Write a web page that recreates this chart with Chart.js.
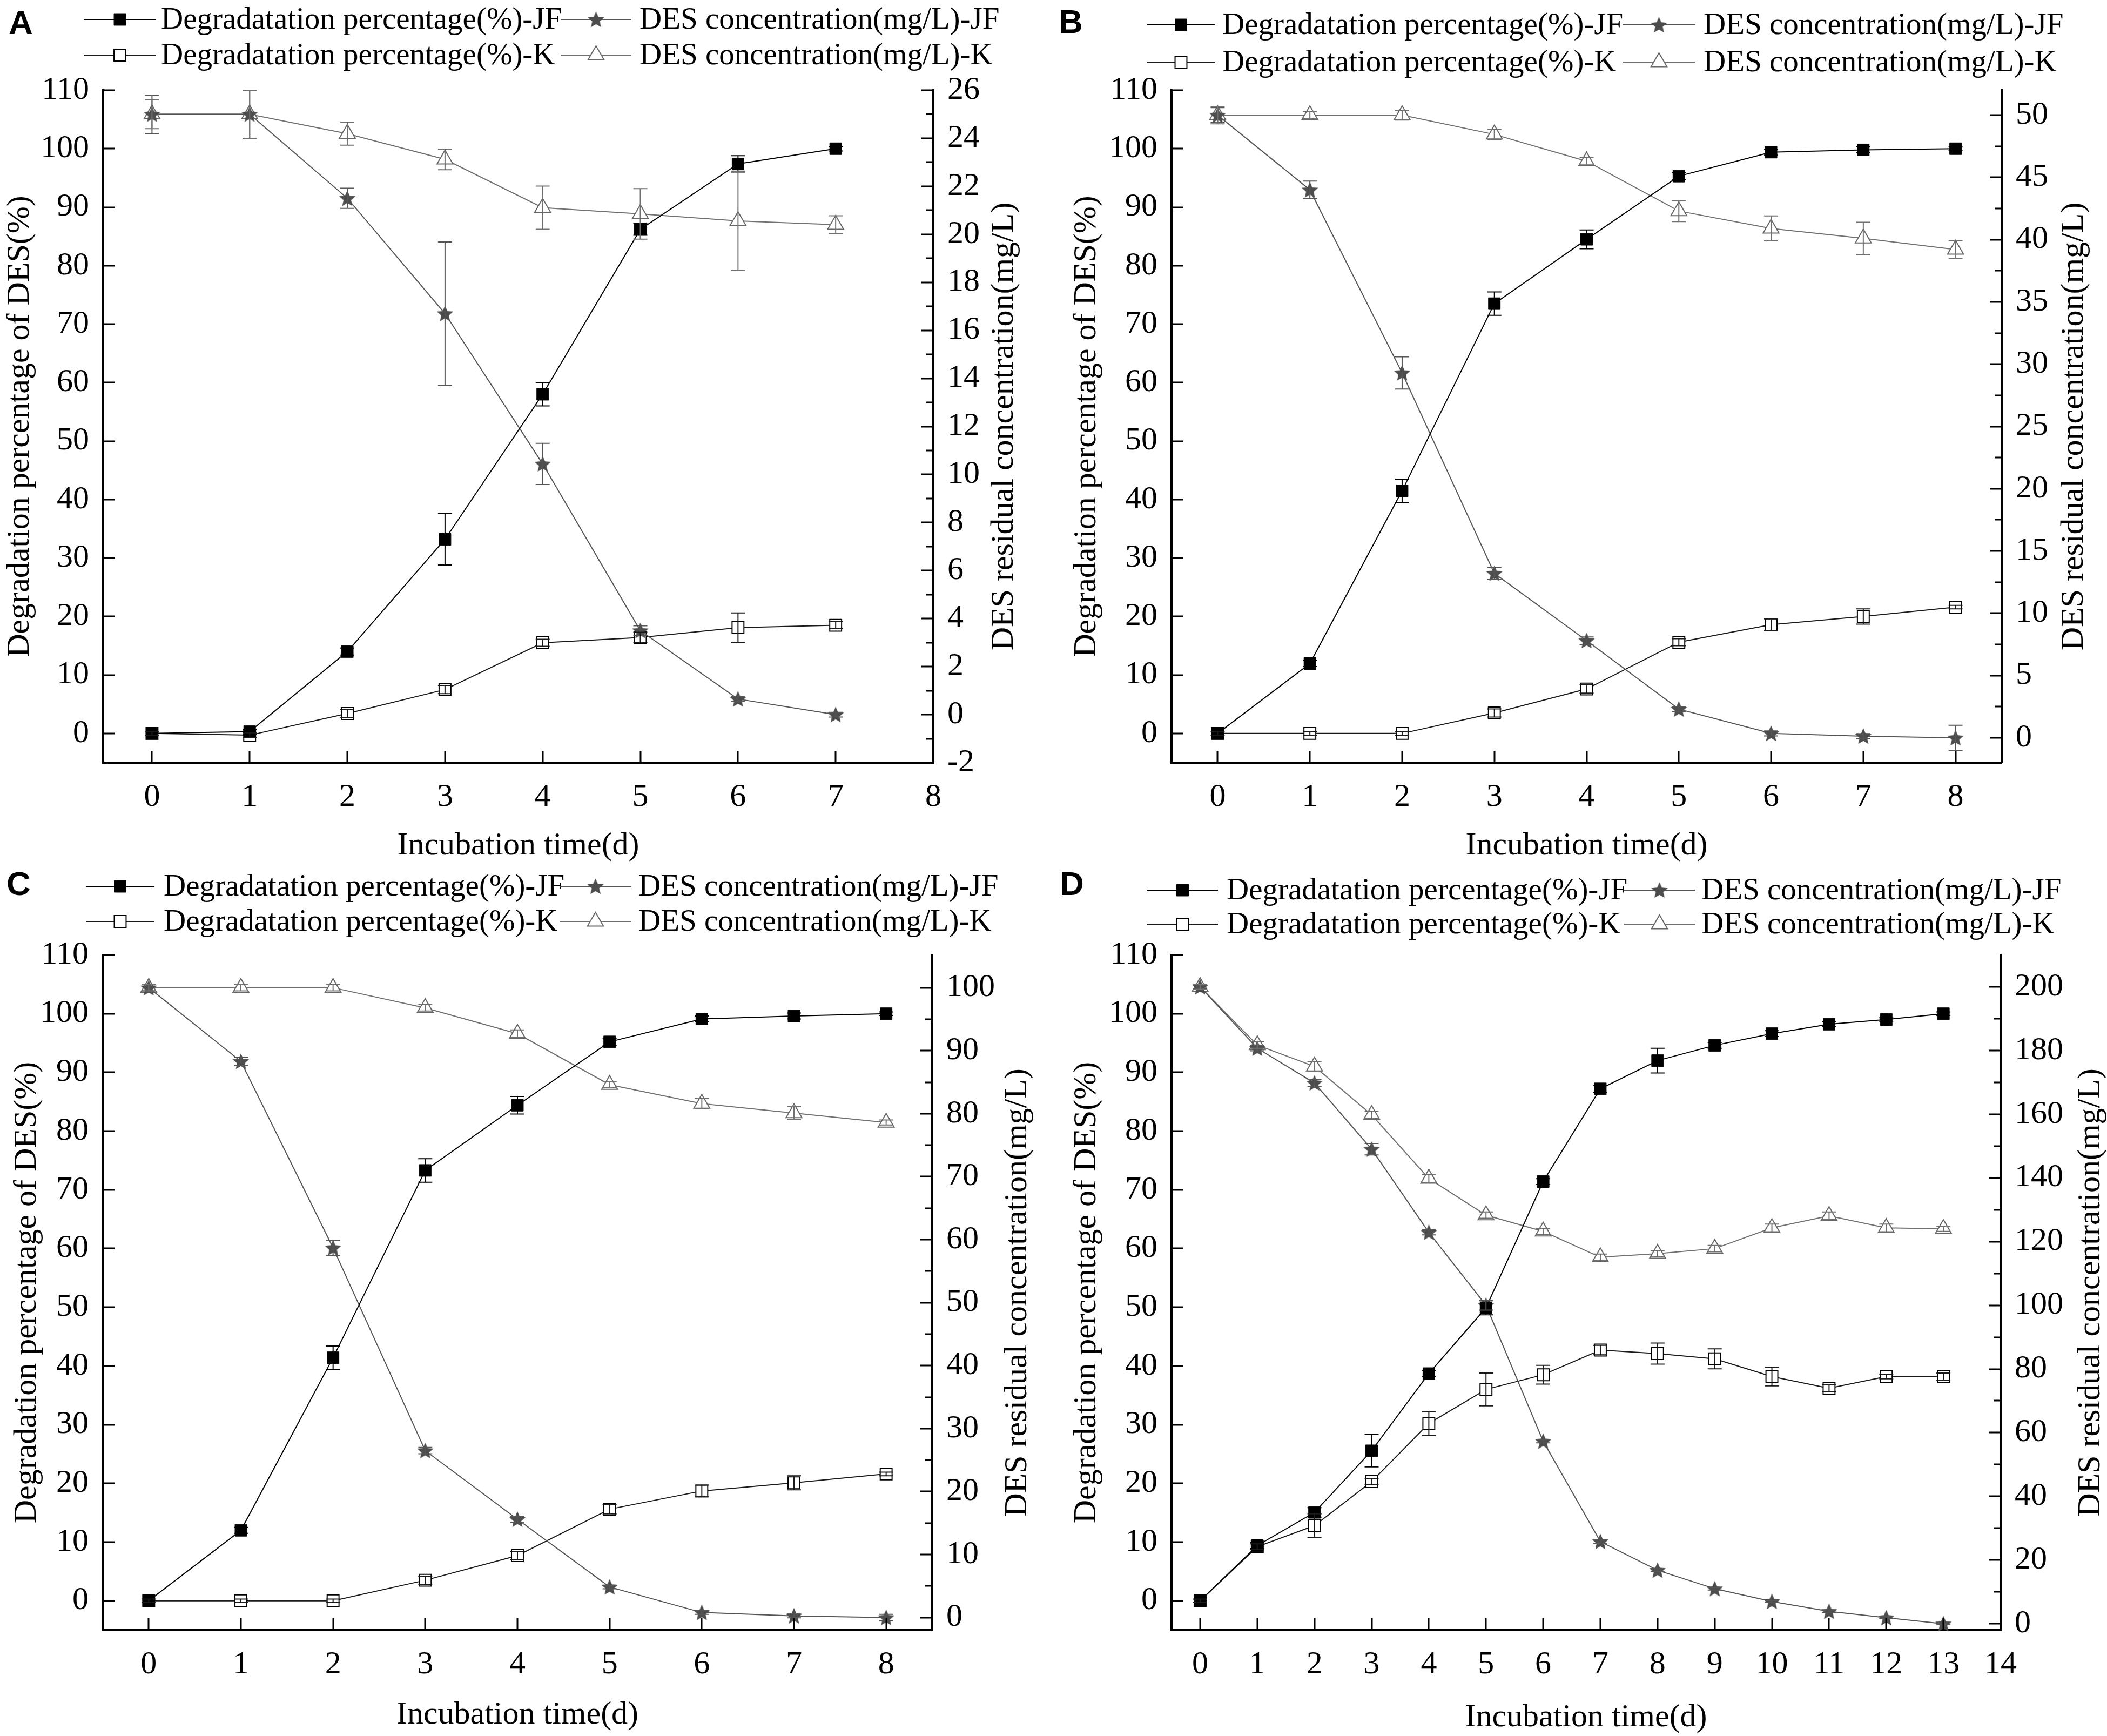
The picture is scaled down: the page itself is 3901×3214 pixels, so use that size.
<!DOCTYPE html>
<html>
<head>
<meta charset="utf-8">
<script src="https://cdn.jsdelivr.net/npm/chart.js@4.4.0/dist/chart.umd.min.js"></script>
<style>
html, body { margin: 0; padding: 0; background: #fff; }
body { width: 3901px; height: 3214px; position: relative; overflow: hidden; }
canvas { position: absolute; }
</style>
</head>
<body>
<canvas id="panelA" width="1950" height="1600" style="left:0;top:0;width:1950px;height:1600px"></canvas>
<canvas id="panelB" width="1951" height="1600" style="left:1950px;top:0;width:1951px;height:1600px"></canvas>
<canvas id="panelC" width="1950" height="1614" style="left:0;top:1600px;width:1950px;height:1614px"></canvas>
<canvas id="panelD" width="1951" height="1614" style="left:1950px;top:1600px;width:1951px;height:1614px"></canvas>
<script>
// ======================================================
// DATA
// ======================================================

const seriesNames = [
    "Degradatation percentage(%)-JF",
    "DES concentration(mg/L)-JF",
    "Degradatation percentage(%)-K",
    "DES concentration(mg/L)-K"
];
const xTitle = "Incubation time(d)";
const leftTitle = "Degradation percentage of DES(%)";
const rightTitle = "DES residual concentration(mg/L)";

const degTicks = [0, 10, 20, 30, 40, 50, 60, 70, 80, 90, 100, 110];

// --- panel A ---
const daysA = [0, 1, 2, 3, 4, 5, 6, 7];
const degJF_A = [0, 0.3, 14.0, 33.2, 58.0, 86.2, 97.4, 100];
const degJF_A_err = [0, 0.4, 0.6, 4.4, 2.0, 1.0, 1.4, 0.4];
const concJF_A = [25.0, 25.0, 21.5, 16.7, 10.44, 3.5, 0.65, 0];
const concJF_A_err = [0.8, 1.0, 0.42, 2.98, 0.86, 0.2, 0.1, 0.1];
const degK_A = [0, -0.3, 3.4, 7.5, 15.5, 16.4, 18.1, 18.5];
const degK_A_err = [0.3, 0.4, 0.7, 0.7, 0.6, 0.9, 2.5, 0.6];
const concK_A = [25.0, 25.0, 24.19, 23.12, 21.11, 20.85, 20.56, 20.4];
const concK_A_err = [0.6, 1.0, 0.48, 0.43, 0.9, 1.05, 2.07, 0.37];
const xTicksA = [0, 1, 2, 3, 4, 5, 6, 7, 8];
const concTicksA = [-2, 0, 2, 4, 6, 8, 10, 12, 14, 16, 18, 20, 22, 24, 26];
const concMinorA = [-1, 1, 3, 5, 7, 9, 11, 13, 15, 17, 19, 21, 23, 25];

// --- panel B ---
const daysB = [0, 1, 2, 3, 4, 5, 6, 7, 8];
const degJF_B = [0, 11.95, 41.5, 73.5, 84.5, 95.3, 99.4, 99.8, 100];
const degJF_B_err = [0, 0.5, 2.0, 2.0, 1.6, 0.6, 0.5, 0.5, 0.3];
const concJF_B = [50.0, 44.0, 29.3, 13.2, 7.8, 2.3, 0.35, 0.13, 0];
const concJF_B_err = [0.6, 0.7, 1.3, 0.5, 0.3, 0.2, 0.2, 0.2, 1.0];
const degK_B = [0, 0, 0, 3.5, 7.6, 15.6, 18.6, 20.0, 21.6];
const degK_B_err = [0.3, 0.3, 0.3, 0.7, 0.7, 0.6, 1.0, 1.3, 0.3];
const concK_B = [50.0, 50.0, 50.0, 48.45, 46.3, 42.3, 40.9, 40.1, 39.2];
const concK_B_err = [0.7, 0.3, 0.4, 0.4, 0.3, 0.85, 1.0, 1.3, 0.7];
const xTicksB = [0, 1, 2, 3, 4, 5, 6, 7, 8];
const concTicksB = [0, 5, 10, 15, 20, 25, 30, 35, 40, 45, 50];
const concMinorB = [2.5, 7.5, 12.5, 17.5, 22.5, 27.5, 32.5, 37.5, 42.5, 47.5];

// --- panel C ---
const daysC = [0, 1, 2, 3, 4, 5, 6, 7, 8];
const degJF_C = [0, 12.0, 41.4, 73.3, 84.4, 95.2, 99.1, 99.6, 100];
const degJF_C_err = [0, 0.5, 2.0, 2.0, 1.5, 0.6, 0.5, 0.5, 0.3];
const concJF_C = [100, 88.3, 58.7, 26.5, 15.6, 4.85, 0.8, 0.26, 0];
const concJF_C_err = [0.5, 0.6, 1.2, 0.5, 0.5, 0.3, 0.3, 0.3, 0.5];
const degK_C = [0, 0, 0, 3.5, 7.7, 15.6, 18.7, 20.1, 21.6];
const degK_C_err = [0.3, 0.3, 0.3, 0.7, 0.7, 0.8, 1.0, 1.2, 0.3];
const concK_C = [100, 100, 100, 96.8, 92.7, 84.6, 81.6, 80.1, 78.6];
const concK_C_err = [0.5, 0.5, 0.5, 0.5, 0.6, 0.5, 0.8, 1.0, 0.4];
const xTicksC = [0, 1, 2, 3, 4, 5, 6, 7, 8];
const concTicksC = [0, 10, 20, 30, 40, 50, 60, 70, 80, 90, 100];
const concMinorC = [5, 15, 25, 35, 45, 55, 65, 75, 85, 95];

// --- panel D ---
const daysD = [0, 1, 2, 3, 4, 5, 6, 7, 8, 9, 10, 11, 12, 13];
const degJF_D = [0, 9.4, 15.05, 25.55, 38.7, 49.9, 71.4, 87.2, 92.0, 94.6, 96.6, 98.2, 99.0, 100];
const degJF_D_err = [0, 0.5, 0.8, 2.75, 0.5, 1.2, 0.5, 0.6, 2.1, 0.5, 0.5, 0.4, 0.3, 0.3];
const concJF_D = [200, 180.7, 169.8, 149.0, 122.9, 100.0, 57.3, 25.8, 16.8, 11.0, 7.0, 3.9, 1.9, 0];
const concJF_D_err = [0.5, 0.8, 1.2, 1.8, 0.8, 1.5, 0.5, 0.5, 0.5, 0.4, 0.3, 0.3, 0.3, 0.3];
const degK_D = [0, 9.2, 12.8, 20.3, 30.2, 36.0, 38.5, 42.7, 42.1, 41.2, 38.2, 36.2, 38.2, 38.2];
const degK_D_err = [0.3, 0.5, 2.0, 0.5, 2.0, 2.8, 1.6, 0.8, 1.8, 1.7, 1.6, 0.6, 0.4, 0.6];
const concK_D = [200, 181.7, 175.0, 159.8, 139.8, 128.3, 123.2, 115.1, 116.2, 117.8, 124.3, 128.1, 124.3, 124.0];
const concK_D_err = [0.8, 1.0, 1.5, 1.2, 1.2, 1.0, 1.0, 1.0, 1.0, 1.0, 1.2, 1.2, 1.2, 0.8];
const xTicksD = [0, 1, 2, 3, 4, 5, 6, 7, 8, 9, 10, 11, 12, 13, 14];
const concTicksD = [0, 20, 40, 60, 80, 100, 120, 140, 160, 180, 200];
const concMinorD = [10, 30, 50, 70, 90, 110, 130, 150, 170, 190];

// ======================================================
// STYLE / LAYOUT
// ======================================================

const SERIF = '"Liberation Serif", "Times New Roman", serif';
const SANS = '"Liberation Sans", Arial, sans-serif';
const TICK_FONT = 60;
const TITLE_FONT = 60;
const LEGEND_FONT = 57;

// chart area + text anchors, per panel, in canvas pixels
const layoutA = { L: 191, R: 1728, T: 167, B: 1412, leftTitleX: 37, rightTitleX: 1859, xTitleY: 1566,
    letter: "A", letterX: 16, letterY: 63,
    lg: { a1: 155, b1: 289, t1: 298, a2: 1038, b2: 1169, t2: 1184, r1: 36, r2: 102 } };
const layoutB = { L: 219, R: 1756, T: 167, B: 1412, leftTitleX: 62, rightTitleX: 1890, xTitleY: 1566,
    letter: "B", letterX: 10, letterY: 61,
    lg: { a1: 174, b1: 299, t1: 313, a2: 1055, b2: 1188, t2: 1204, r1: 46, r2: 115 } };
const layoutC = { L: 190, R: 1726, T: 168, B: 1418, leftTitleX: 50, rightTitleX: 1884, xTitleY: 1575,
    letter: "C", letterX: 12, letterY: 57,
    lg: { a1: 159, b1: 286, t1: 303, a2: 1036, b2: 1169, t2: 1182, r1: 41, r2: 106 } };
const layoutD = { L: 219, R: 1754, T: 168, B: 1418, leftTitleX: 62, rightTitleX: 1921, xTitleY: 1580,
    letter: "D", letterX: 12, letterY: 57,
    lg: { a1: 174, b1: 305, t1: 321, a2: 1057, b2: 1188, t2: 1200, r1: 48, r2: 111 } };

// filled five-point star marker
function makeStar(size, color) {
    const c = document.createElement("canvas");
    c.width = size;
    c.height = size;
    const g = c.getContext("2d");
    const R = size / 2, r = R * 0.46;
    g.beginPath();
    for (let k = 0; k < 10; k++) {
        const rad = k % 2 === 0 ? R : r;
        const a = -Math.PI / 2 + k * Math.PI / 5;
        const px = R + rad * Math.cos(a);
        const py = R * 1.08 + rad * Math.sin(a);
        if (k === 0) g.moveTo(px, py); else g.lineTo(px, py);
    }
    g.closePath();
    g.fillStyle = color;
    g.fill();
    return c;
}
const starImg = makeStar(32, "#4d4d4d");

// ======================================================
// PLUGINS
// ======================================================

// error bars from dataset.errors
const errorBars = {
    id: "errorBars",
    afterDatasetsDraw(chart) {
        const ctx = chart.ctx;
        chart.data.datasets.forEach((ds, i) => {
            if (!ds.errors) return;
            const meta = chart.getDatasetMeta(i);
            const ys = chart.scales[ds.yAxisID];
            ctx.save();
            ctx.strokeStyle = ds.errColor || ds.borderColor;
            ctx.lineWidth = 2;
            meta.data.forEach((pt, j) => {
                const e = ds.errors[j];
                if (!e) return;
                const v = ds.data[j].y;
                const y1 = ys.getPixelForValue(v + e);
                const y2 = ys.getPixelForValue(v - e);
                ctx.beginPath();
                ctx.moveTo(pt.x, y1); ctx.lineTo(pt.x, y2);
                ctx.moveTo(pt.x - 13, y1); ctx.lineTo(pt.x + 13, y1);
                ctx.moveTo(pt.x - 13, y2); ctx.lineTo(pt.x + 13, y2);
                ctx.stroke();
            });
            ctx.restore();
        });
    }
};

// inward ticks, titles, panel letter and the two-row legend
const decor = {
    id: "decor",
    afterDraw(chart, args, opts) {
        const ctx = chart.ctx;
        const ca = chart.chartArea;
        const lay = opts.layout;
        const xs = chart.scales.x, yl = chart.scales.y, yr = chart.scales.y2;

        ctx.save();
        ctx.strokeStyle = "#000";
        ctx.lineWidth = 3;
        ctx.beginPath();
        xs.ticks.forEach(t => {
            const p = Math.round(xs.getPixelForValue(t.value));
            ctx.moveTo(p, ca.bottom); ctx.lineTo(p, ca.bottom - 22);
        });
        yl.ticks.forEach(t => {
            const p = Math.round(yl.getPixelForValue(t.value));
            ctx.moveTo(ca.left, p); ctx.lineTo(ca.left + 22, p);
        });
        yr.ticks.forEach(t => {
            const p = Math.round(yr.getPixelForValue(t.value));
            ctx.moveTo(ca.right, p); ctx.lineTo(ca.right - 22, p);
        });
        opts.minor.forEach(v => {
            const p = Math.round(yr.getPixelForValue(v));
            ctx.moveTo(ca.right, p); ctx.lineTo(ca.right - 13, p);
        });
        ctx.stroke();

        // titles
        ctx.fillStyle = "#000";
        ctx.font = TITLE_FONT + "px " + SERIF;
        ctx.textAlign = "center";
        ctx.textBaseline = "middle";
        ctx.fillText(xTitle, (ca.left + ca.right) / 2, lay.xTitleY);
        const midY = (ca.top + ca.bottom) / 2;
        [[lay.leftTitleX, leftTitle], [lay.rightTitleX, rightTitle]].forEach(([tx, txt]) => {
            ctx.save();
            ctx.translate(tx, midY);
            ctx.rotate(-Math.PI / 2);
            ctx.fillText(txt, 0, 0);
            ctx.restore();
        });

        // panel letter
        ctx.font = "bold 62px " + SANS;
        ctx.textAlign = "left";
        ctx.textBaseline = "alphabetic";
        ctx.fillText(lay.letter, lay.letterX, lay.letterY);

        // legend
        const lg = lay.lg;
        const slots = [
            [lg.a1, lg.b1, lg.t1, lg.r1],
            [lg.a2, lg.b2, lg.t2, lg.r1],
            [lg.a1, lg.b1, lg.t1, lg.r2],
            [lg.a2, lg.b2, lg.t2, lg.r2]
        ];
        ctx.font = LEGEND_FONT + "px " + SERIF;
        ctx.textBaseline = "middle";
        chart.data.datasets.forEach((ds, i) => {
            const [a, b, t, y] = slots[i];
            ctx.strokeStyle = ds.borderColor;
            ctx.lineWidth = 2;
            ctx.beginPath();
            ctx.moveTo(a, y); ctx.lineTo(b, y);
            ctx.stroke();
            ctx.fillStyle = ds.pointBackgroundColor;
            ctx.strokeStyle = ds.pointBorderColor;
            ctx.lineWidth = ds.pointBorderWidth;
            Chart.helpers.drawPoint(ctx, {
                pointStyle: ds.pointStyle,
                radius: ds.pointRadius,
                borderWidth: ds.pointBorderWidth,
                rotation: 0
            }, (a + b) / 2, y);
            ctx.fillStyle = "#000";
            ctx.fillText(seriesNames[i], t, y + 2);
        });
        ctx.restore();
    }
};

// ======================================================
// BUILD
// ======================================================

function pts(days, vals) {
    return days.map((d, i) => ({ x: d, y: vals[i] }));
}

function buildPanel(id, lay, days, s, xRange, xTicks, yRange, concRange, concTicks, concMinor) {
    const canvas = document.getElementById(id);
    const W = canvas.width, H = canvas.height;

    const datasets = [
        {
            label: seriesNames[0], data: pts(days, s.degJF), errors: s.degJFErr, yAxisID: "y",
            borderColor: "#000", borderWidth: 2,
            pointStyle: "rect", pointRadius: 15.5, pointBackgroundColor: "#000",
            pointBorderColor: "#000", pointBorderWidth: 1
        },
        {
            label: seriesNames[1], data: pts(days, s.concJF), errors: s.concJFErr, yAxisID: "y2",
            borderColor: "#555", borderWidth: 2,
            pointStyle: starImg, pointRadius: 15, pointBackgroundColor: "#4d4d4d",
            pointBorderColor: "#4d4d4d", pointBorderWidth: 1
        },
        {
            label: seriesNames[2], data: pts(days, s.degK), errors: s.degKErr, yAxisID: "y",
            borderColor: "#1a1a1a", borderWidth: 2,
            pointStyle: "rect", pointRadius: 15.5, pointBackgroundColor: "#fff",
            pointBorderColor: "#000", pointBorderWidth: 2
        },
        {
            label: seriesNames[3], data: pts(days, s.concK), errors: s.concKErr, yAxisID: "y2",
            borderColor: "#707070", borderWidth: 2,
            pointStyle: "triangle", pointRadius: 17, pointBackgroundColor: "#fff",
            pointBorderColor: "#666", pointBorderWidth: 2
        }
    ];
    datasets.forEach(d => {
        d.tension = 0;
        d.clip = false;
        d.pointHoverRadius = d.pointRadius;
    });

    const tickFont = { family: SERIF, size: TICK_FONT };

    new Chart(canvas.getContext("2d"), {
        type: "line",
        data: { datasets: datasets },
        options: {
            responsive: false,
            devicePixelRatio: 1,
            animation: false,
            events: [],
            layout: { padding: { top: lay.T, left: 0, right: 0, bottom: 0 } },
            plugins: {
                legend: { display: false },
                tooltip: { enabled: false },
                decor: { layout: lay, minor: concMinor }
            },
            scales: {
                x: {
                    type: "linear",
                    min: xRange[0],
                    max: xRange[1],
                    afterBuildTicks: sc => { sc.ticks = xTicks.map(v => ({ value: v })); },
                    afterFit: sc => { sc.height = H - lay.B; },
                    grid: { display: false, drawTicks: false },
                    border: { display: true, color: "#000", width: 4 },
                    ticks: { font: tickFont, color: "#000", padding: 28, maxRotation: 0, autoSkip: false }
                },
                y: {
                    type: "linear",
                    position: "left",
                    min: yRange[0],
                    max: yRange[1],
                    afterBuildTicks: sc => { sc.ticks = degTicks.map(v => ({ value: v })); },
                    afterFit: sc => { sc.width = lay.L; },
                    grid: { display: false, drawTicks: false },
                    border: { display: true, color: "#000", width: 4 },
                    ticks: { font: tickFont, color: "#000", padding: 26, autoSkip: false }
                },
                y2: {
                    type: "linear",
                    position: "right",
                    min: concRange[0],
                    max: concRange[1],
                    afterBuildTicks: sc => { sc.ticks = concTicks.map(v => ({ value: v })); },
                    afterFit: sc => { sc.width = W - lay.R; },
                    grid: { display: false, drawTicks: false },
                    border: { display: true, color: "#000", width: 4 },
                    ticks: { font: tickFont, color: "#000", padding: 26, autoSkip: false }
                }
            }
        },
        plugins: [errorBars, decor]
    });
}

buildPanel("panelA", layoutA, daysA,
    { degJF: degJF_A, degJFErr: degJF_A_err, concJF: concJF_A, concJFErr: concJF_A_err,
      degK: degK_A, degKErr: degK_A_err, concK: concK_A, concKErr: concK_A_err },
    [-0.5, 8], xTicksA, [-5, 110], [-2, 26], concTicksA, concMinorA);

buildPanel("panelB", layoutB, daysB,
    { degJF: degJF_B, degJFErr: degJF_B_err, concJF: concJF_B, concJFErr: concJF_B_err,
      degK: degK_B, degKErr: degK_B_err, concK: concK_B, concKErr: concK_B_err },
    [-0.5, 8.5], xTicksB, [-5, 110], [-2, 52], concTicksB, concMinorB);

buildPanel("panelC", layoutC, daysC,
    { degJF: degJF_C, degJFErr: degJF_C_err, concJF: concJF_C, concJFErr: concJF_C_err,
      degK: degK_C, degKErr: degK_C_err, concK: concK_C, concKErr: concK_C_err },
    [-0.5, 8.5], xTicksC, [-5, 110], [-2, 105.2], concTicksC, concMinorC);

buildPanel("panelD", layoutD, daysD,
    { degJF: degJF_D, degJFErr: degJF_D_err, concJF: concJF_D, concJFErr: concJF_D_err,
      degK: degK_D, degKErr: degK_D_err, concK: concK_D, concKErr: concK_D_err },
    [-0.5, 14], xTicksD, [-5, 110], [-2, 210], concTicksD, concMinorD);
</script>
</body>
</html>
